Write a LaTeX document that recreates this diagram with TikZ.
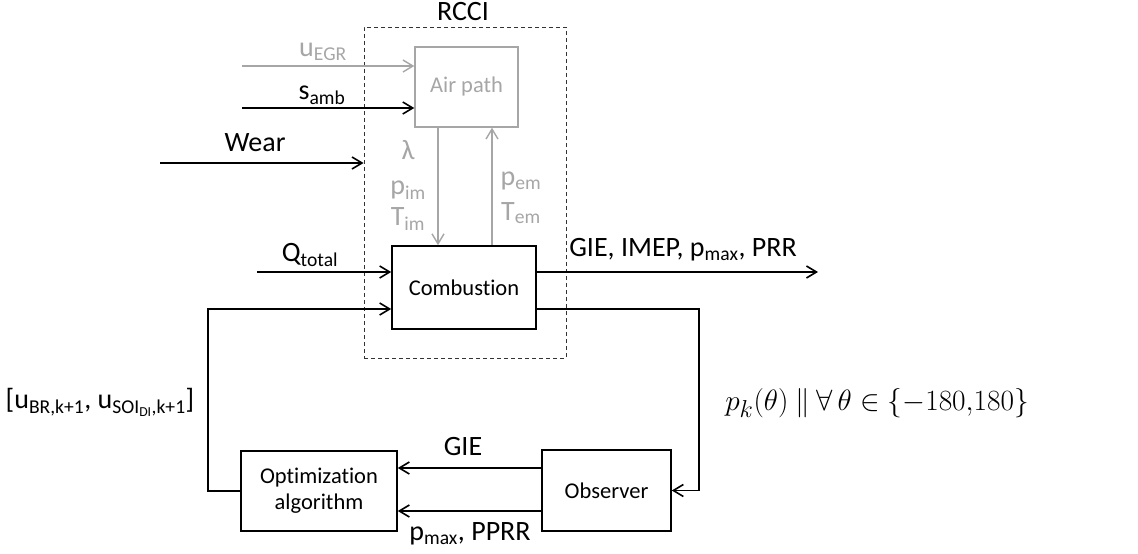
\documentclass[tikz,border=0pt]{standalone}
\usepackage{graphicx}
\usepackage{fontspec}
\setmainfont{Carlito}[Ligatures=NoCommon]
\usetikzlibrary{arrows.meta}
\definecolor{lgrey}{RGB}{166,166,166}
\tikzset{
  blk/.style={draw=black, line width=1.6pt, fill=white, font=\fontsize{22.5}{26}\selectfont, align=center, inner sep=0pt},
  gblk/.style={draw=lgrey, line width=1.4pt, text=lgrey, font=\fontsize{22.5}{26}\selectfont, align=center, inner sep=0pt},
  arr/.style={line width=1.6pt, -{Straight Barb[length=10pt,width=12pt,line width=1.6pt]}},
  garr/.style={draw=lgrey, line width=1.4pt, -{Straight Barb[length=10pt,width=12pt,line width=1.4pt]}},
  lbl/.style={font=\fontsize{28}{32}\selectfont, inner sep=0pt},
  glbl/.style={lbl, text=lgrey},
}
\begin{document}
\begin{tikzpicture}[x=1pt,y=-1pt]
\useasboundingbox (0,0) rectangle (1138,554);
% RCCI dashed box
\node[draw=black!80, line width=0.9pt, dash pattern=on 4pt off 3pt, minimum width=202pt, minimum height=331pt, inner sep=0pt] (rcci) at (465,192.5) {};
\node[lbl] (rccil) at (463,12) {RCCI};
% blocks
\node[gblk, minimum width=103pt, minimum height=80pt] (air) at (466.5,87) {Air path};
\node[blk, minimum width=144pt, minimum height=83pt] (comb) at (464,287.5) {Combustion};
\node[blk, minimum width=156pt, minimum height=80pt] (opt) at (319,491) {Optimization\\algorithm};
\node[blk, minimum width=129pt, minimum height=81pt] (obs) at (606.5,490.5) {Observer};
% coordinates
\coordinate (uegr) at (242,66);
\coordinate (samb) at (242,108);
\coordinate (wear) at (160,163);
\coordinate (qt) at (257,272);
\coordinate (downx) at (438,0);
\coordinate (upx) at (492,0);
\coordinate (out1) at (818,272);
\coordinate (c2) at (699,309);
\coordinate (c3) at (208,309);
\coordinate (gie) at (470,468);
\coordinate (pm) at (470,511);
% connectors
\draw[garr] (uegr) -- (uegr -| air.west);
\draw[arr] (samb) -- (samb -| air.west);
\draw[arr] (wear) -- (wear -| rcci.west);
\draw[arr] (qt) -- (qt -| comb.west);
\draw[garr] (air.south -| downx) -- (comb.north -| downx);
\draw[garr] (comb.north -| upx) -- (air.south -| upx);
\draw[arr] (comb.east |- out1) -- (out1);
\draw[arr] (comb.east |- c2) -- (c2) |- (obs.east);
\draw[arr] (opt.west) -| (c3) -- (comb.west |- c3);
\draw[arr] (obs.west |- gie) -- (opt.east |- gie);
\draw[arr] (obs.west |- pm) -- (opt.east |- pm);
% labels
\node[glbl] (luegr) at (323,52) {u\textsubscript{EGR}};
\node[lbl] (lsamb) at (322,95) {s\textsubscript{amb}};
\node[lbl] (lwear) at (255,143) {Wear};
\node[glbl] (llam) at (408,150) {λ};
\node[glbl] (lpim) at (408,190) {p\textsubscript{im}};
\node[glbl] (ltim) at (408,219) {T\textsubscript{im}};
\node[glbl] (lpem) at (521,181) {p\textsubscript{em}};
\node[glbl] (ltem) at (521,213) {T\textsubscript{em}};
\node[lbl] (lq) at (310,255) {Q\textsubscript{total}};
\node[lbl] (lout) at (683,250) {GIE, IMEP, p\textsubscript{max}, PRR};
\node[lbl] (lgie) at (463,447) {GIE};
\node[lbl] (lpm) at (470,534) {p\textsubscript{max}, PPRR};
\node[lbl] (lu) at (100,402) {[u\textsubscript{BR,k+1}, u\textsubscript{SOI\textsubscript{DI},k+1}]};
\node[inner sep=0pt] (lf) at (877,403) {\scalebox{1.18}{\fontsize{24.88}{30}\selectfont $p_k(\theta)\ \|\ \forall\,\theta\in\{-180{,}180\}$}};
\end{tikzpicture}
\end{document}
